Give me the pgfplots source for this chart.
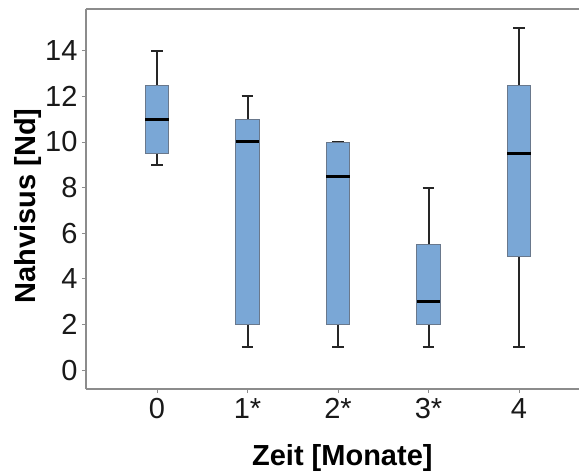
\documentclass[border=0pt]{standalone}
\usepackage{fontspec}
\setmainfont{Liberation Sans}
\usepackage{pgfplots}
\pgfplotsset{compat=1.18}
\usepgfplotslibrary{statistics}

\definecolor{boxblue}{RGB}{122,167,214}
\definecolor{boxedge}{RGB}{105,120,140}
\definecolor{axisgray}{RGB}{140,140,140}

\begin{document}
\begin{tikzpicture}[x=1pt,y=1pt]
\useasboundingbox (-86,-83) rectangle (493,389);
\begin{axis}[
  at={(0,0)}, anchor=south west,
  scale only axis,
  width=493pt, height=380pt,
  xmin=-0.785, xmax=4.663,
  ymin=-0.83, ymax=15.83,
  axis x line=box, axis y line=left,
  y axis line style={-},
  axis line style={axisgray, line width=1.3pt},
  xtick={0,1,2,3,4},
  xticklabels={0,1*,2*,3*,4},
  ytick={0,2,...,14},
  tick align=outside,
  xtick pos=bottom, ytick pos=left,
  major tick length=4pt,
  tick style={axisgray, line width=0.9pt},
  /pgf/number format/assume math mode=true,
  ticklabel style={font=\fontsize{29}{31}\selectfont, text=black!90},
  xticklabel style={yshift=-2pt},
  yticklabel style={xshift=-1pt},
  xlabel={\textbf{Zeit [Monate]}},
  ylabel={\textbf{Nahvisus [Nd]}},
  every axis x label/.style={at={(axis description cs:0.52,-0.2)}, anchor=base, font=\fontsize{29}{32}\selectfont},
  every axis y label/.style={at={(axis description cs:-0.1176,0.482)}, rotate=90, anchor=center, font=\fontsize{29}{32}\selectfont},
  boxplot/draw direction=y,
  boxplot/box extend=0.26,
  boxplot/whisker extend=0.13,
  boxplot/every box/.style={draw=boxedge, fill=boxblue, line width=0.9pt},
  boxplot/every whisker/.style={black!85, line width=2pt},
  boxplot/every median/.style={black, line width=3pt},
]
% month 0
\addplot[boxplot prepared={draw position=0,
  lower whisker=9, lower quartile=9.5, median=11,
  upper quartile=12.5, upper whisker=14}] coordinates {};
% month 1
\addplot[boxplot prepared={draw position=1,
  lower whisker=1, lower quartile=2, median=10,
  upper quartile=11, upper whisker=12}] coordinates {};
% month 2
\addplot[boxplot prepared={draw position=2,
  lower whisker=1, lower quartile=2, median=8.5,
  upper quartile=10, upper whisker=10}] coordinates {};
% month 3
\addplot[boxplot prepared={draw position=3,
  lower whisker=1, lower quartile=2, median=3,
  upper quartile=5.5, upper whisker=8}] coordinates {};
% month 4
\addplot[boxplot prepared={draw position=4,
  lower whisker=1, lower quartile=5, median=9.5,
  upper quartile=12.5, upper whisker=15}] coordinates {};
\end{axis}
\end{tikzpicture}
\end{document}
